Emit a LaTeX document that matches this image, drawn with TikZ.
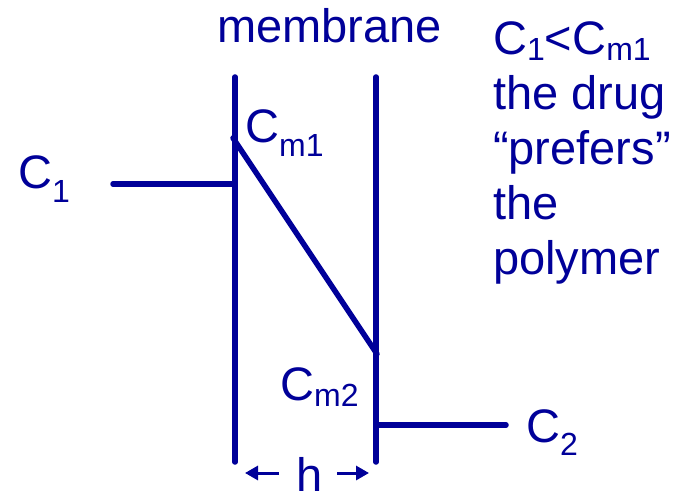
\documentclass[tikz,border=0pt]{standalone}
\usepackage{fontspec}
\setmainfont{Liberation Sans}
\usetikzlibrary{arrows.meta}
\definecolor{drugblue}{RGB}{0,0,153}
\newcommand{\lowidx}[2][14pt]{\raisebox{-#1}{\fontsize{32}{32}\selectfont #2}}

\begin{document}
\begin{tikzpicture}[x=1pt, y=-1pt, font=\fontsize{47}{55}\selectfont,
  every node/.style={text=drugblue, inner sep=0pt},
  wall/.style={draw=drugblue, line width=5.5pt, line cap=round},
  dimarrow/.style={draw=drugblue, line width=3pt, -{Triangle[length=13pt,width=14pt]}}]
  \useasboundingbox (0,0) rectangle (687,494);
  % membrane walls
  \coordinate (w1top) at (235,77);
  \coordinate (w1bot) at (235,462);
  \coordinate (w2top) at (376,77);
  \coordinate (w2bot) at (376,462);
  \coordinate (c1end) at (113,184);
  \coordinate (c1wall) at (235,184);
  \coordinate (cm1pt) at (233,138);
  \coordinate (cm2pt) at (377,354);
  \coordinate (c2wall) at (376,425);
  \coordinate (c2end) at (506,425);
  \draw[wall] (w1top) -- (w1bot);
  \draw[wall] (w2top) -- (w2bot);
  \draw[wall] (c1end) -- (c1wall);
  \draw[wall] (cm1pt) -- (cm2pt);
  \draw[wall] (c2wall) -- (c2end);
  % labels
  \node[anchor=base west] (mem) at (217,43) {membrane};
  \node[anchor=base west] (c1) at (18,189) {C\lowidx{1}};
  \node[anchor=base west] (cm1) at (245,143) {C\lowidx{m1}};
  \node[anchor=base west] (cm2) at (280,400) {C\lowidx[6pt]{m2}};
  \node[anchor=base west] (c2) at (526,442) {C\lowidx[13pt]{2}};
  \node[anchor=north west, align=left] (note) at (493,21)
    {C\lowidx[6pt]{1}<C\lowidx[6pt]{m1}\\the drug\\“prefers”\\the\\polymer};
  % thickness h
  \node[anchor=base] (h) at (310,491) {h};
  \coordinate (hL) at (279,473);
  \coordinate (hLtip) at (245,473);
  \coordinate (hR) at (337,473);
  \coordinate (hRtip) at (369,473);
  \draw[dimarrow] (hL) -- (hLtip);
  \draw[dimarrow] (hR) -- (hRtip);
\end{tikzpicture}
\end{document}
